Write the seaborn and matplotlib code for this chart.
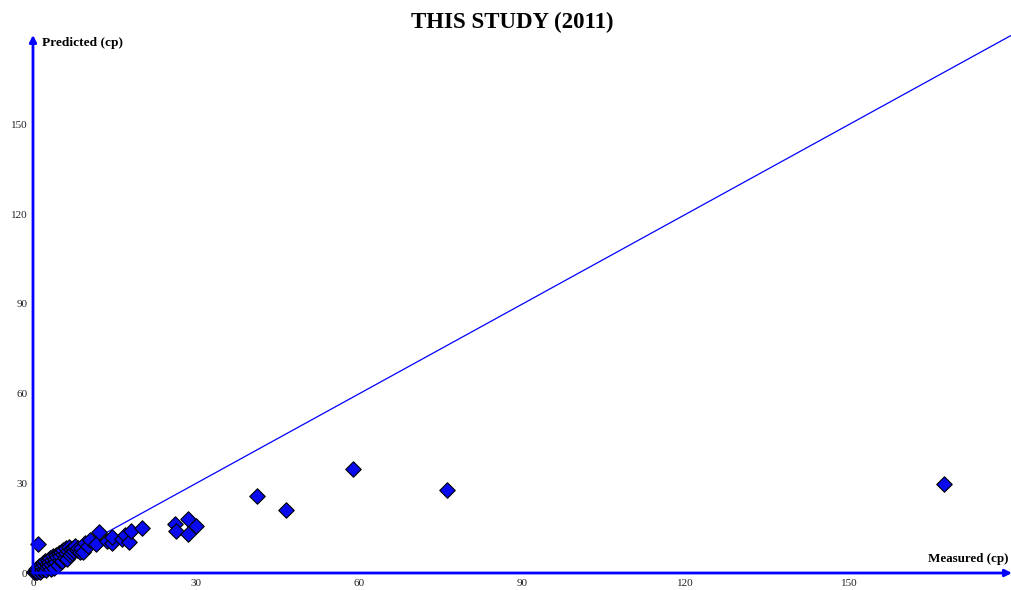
import numpy as np
import pandas as pd
import seaborn as sns
import matplotlib.pyplot as plt

measured = [0.2, 0.4, 0.5, 0.6, 0.8, 0.9, 1.0, 1.1, 1.2, 1.3, 1.5, 1.6, 1.7, 1.9, 2.0,
            2.1, 2.2, 2.4, 2.5, 2.6, 2.8, 2.9, 3.0, 3.2, 3.3, 3.4, 3.5, 3.7, 3.8, 3.9,
            4.0, 4.2, 4.3, 4.5, 4.6, 4.8, 4.9, 5.0, 5.2, 5.3, 5.5, 5.6, 5.8, 6.0, 6.1,
            6.3, 6.5, 6.7, 6.8, 7.0, 7.2, 7.4, 7.6, 7.8, 8.0, 8.3, 8.6, 8.8, 9.2, 9.5,
            10.2, 10.5, 11.5, 12.1, 13.6, 14.5, 14.6, 16.4, 17.0, 17.6, 18.0, 20.0, 1.0,
            26.1, 26.3, 28.5, 30.0, 28.5, 41.1, 46.5, 58.8, 76.2, 167.5]
predicted = [0.3, 0.8, 0.2, 1.2, 0.5, 1.6, 0.9, 2.2, 0.4, 1.5, 2.8, 1.0, 2.0, 3.3, 1.4,
             2.6, 4.0, 0.9, 3.0, 1.9, 4.4, 2.4, 3.6, 5.0, 1.5, 2.9, 4.2, 5.6, 3.3, 1.8,
             4.8, 6.0, 3.7, 5.3, 2.6, 6.6, 4.3, 5.8, 7.0, 3.9, 6.2, 7.6, 5.0, 6.8, 8.2,
             4.6, 7.3, 8.7, 5.9, 7.9, 6.6, 8.4, 7.2, 8.9, 7.7, 8.3, 6.9, 8.3, 6.9, 9.9,
             9.0, 11.1, 9.7, 13.8, 10.8, 9.9, 12.2, 11.3, 12.7, 10.5, 14.2, 15.2, 9.6,
             16.3, 14.0, 18.1, 15.6, 13.1, 25.8, 21.1, 34.8, 27.8, 29.8]
x_ticks = [0, 30, 60, 90, 120, 150]
y_ticks = [0, 30, 60, 90, 120, 150]
ax_max = 180

df = pd.DataFrame({'Measured': measured, 'Predicted': predicted})

sns.set_style('white')
plt.rcParams['font.family'] = ['Liberation Serif', 'DejaVu Serif']
plt.rcParams['text.color'] = 'black'

fig = plt.figure(figsize=(10.12, 5.9), dpi=100)
ax = fig.add_axes([0.0326, 0.0288, 0.9674, 0.912])

# линия y = x
sns.lineplot(x=[0, ax_max], y=[0, ax_max], color='#0000FF', linewidth=0.9, ax=ax)
sns.scatterplot(data=df, x='Measured', y='Predicted', marker='D', s=62,
                color='#0A0AEE', edgecolor='black', linewidth=0.8, ax=ax, zorder=3, clip_on=False)

ax.set_xlim(0, ax_max)
ax.set_ylim(0, ax_max)
ax.set_xticks(x_ticks)
ax.set_yticks(y_ticks)
ax.tick_params(labelsize=8, length=2, pad=2, colors='#222222', width=0.6)
ax.set_xlabel('')
ax.set_ylabel('')
for s in ax.spines.values():
    s.set_visible(False)

# оси со стрелками
ax.annotate('', xy=(1.0, 0), xytext=(0, 0), xycoords='axes fraction',
            arrowprops=dict(arrowstyle='-|>', color='#0000FF', lw=2, mutation_scale=10,
                            shrinkA=0, shrinkB=0))
ax.annotate('', xy=(0, 1.0), xytext=(0, 0), xycoords='axes fraction',
            arrowprops=dict(arrowstyle='-|>', color='#0000FF', lw=2, mutation_scale=10,
                            shrinkA=0, shrinkB=0))

ax.text(0.009, 0.985, 'Predicted (cp)', transform=ax.transAxes, fontsize=9.6,
        fontweight='bold', ha='left', va='center')
ax.text(0.996, 0.026, 'Measured (cp)', transform=ax.transAxes, fontsize=9.4,
        fontweight='bold', ha='right', va='center')
fig.text(0.506, 0.962, 'THIS STUDY (2011)', fontsize=16.5, fontweight='bold',
         ha='center', va='center')

fig.savefig('out.png', dpi=100)
